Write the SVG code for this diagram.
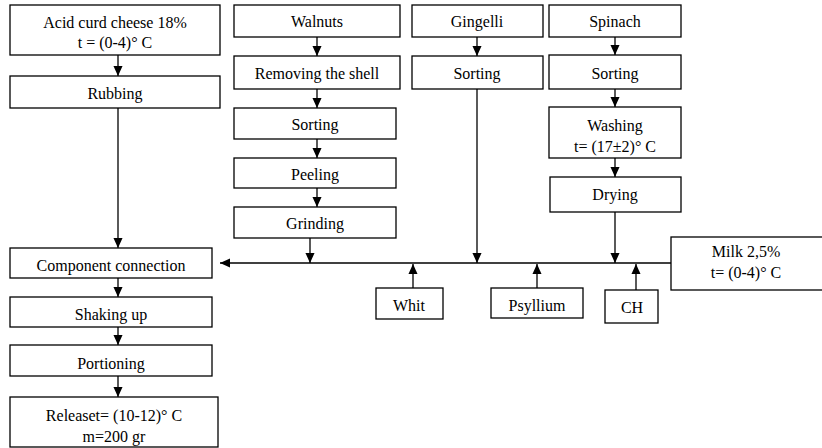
<svg xmlns="http://www.w3.org/2000/svg" width="822" height="448" viewBox="0 0 822 448">
<style>
.b{fill:#fff;stroke:#000;stroke-width:1.3}
text{font-family:"Times New Roman","Liberation Serif","DejaVu Serif",serif;font-size:16px;fill:#000;text-anchor:middle}
.c{fill:none;stroke:#000;stroke-width:1.3}
</style>
<defs>
<marker id="ah" markerUnits="userSpaceOnUse" markerWidth="10" markerHeight="12" refX="11" refY="5" orient="auto" viewBox="0 0 11 10">
<path d="M0,0 L11,5 L0,10 Z" fill="#000"/>
</marker>
</defs>
<rect width="822" height="448" fill="#fff"/>
<g id="connectors">
<line class="c" x1="118" y1="55" x2="118" y2="76" marker-end="url(#ah)"/>
<line class="c" x1="118" y1="108" x2="118" y2="248" marker-end="url(#ah)"/>
<line class="c" x1="118" y1="278" x2="118" y2="297" marker-end="url(#ah)"/>
<line class="c" x1="118" y1="327" x2="118" y2="345" marker-end="url(#ah)"/>
<line class="c" x1="118" y1="376" x2="118" y2="397" marker-end="url(#ah)"/>
<line class="c" x1="317" y1="37" x2="317" y2="56" marker-end="url(#ah)"/>
<line class="c" x1="317" y1="89" x2="317" y2="108" marker-end="url(#ah)"/>
<line class="c" x1="317" y1="139" x2="317" y2="158" marker-end="url(#ah)"/>
<line class="c" x1="317" y1="188" x2="317" y2="207" marker-end="url(#ah)"/>
<line class="c" x1="310" y1="238" x2="310" y2="263" marker-end="url(#ah)"/>
<line class="c" x1="477" y1="37" x2="477" y2="56" marker-end="url(#ah)"/>
<line class="c" x1="477" y1="89" x2="477" y2="263" marker-end="url(#ah)"/>
<line class="c" x1="615" y1="37" x2="615" y2="55" marker-end="url(#ah)"/>
<line class="c" x1="615" y1="89" x2="615" y2="107" marker-end="url(#ah)"/>
<line class="c" x1="615" y1="158" x2="615" y2="177" marker-end="url(#ah)"/>
<line class="c" x1="615" y1="212" x2="615" y2="263" marker-end="url(#ah)"/>
<line class="c" x1="671" y1="263" x2="220" y2="263" marker-end="url(#ah)"/>
<line class="c" x1="413" y1="288" x2="413" y2="264" marker-end="url(#ah)"/>
<line class="c" x1="537" y1="288" x2="537" y2="264" marker-end="url(#ah)"/>
<line class="c" x1="636" y1="290" x2="636" y2="264" marker-end="url(#ah)"/>
</g>
<g id="acid"><rect class="b" x="10" y="5" width="210" height="50"/><text x="115" y="28">Acid curd cheese 18%</text><text x="115" y="48">t = (0-4)° C</text></g>
<g id="rubbing"><rect class="b" x="10" y="76" width="210" height="32"/><text x="115" y="99">Rubbing</text></g>
<g id="walnuts"><rect class="b" x="234" y="5" width="166" height="32"/><text x="317" y="27">Walnuts</text></g>
<g id="removing"><rect class="b" x="234" y="56" width="166" height="33"/><text x="317" y="79">Removing the shell</text></g>
<g id="sorting1"><rect class="b" x="234" y="108" width="162" height="31"/><text x="315" y="130">Sorting</text></g>
<g id="peeling"><rect class="b" x="234" y="158" width="162" height="30"/><text x="315" y="180">Peeling</text></g>
<g id="grinding"><rect class="b" x="234" y="207" width="162" height="31"/><text x="315" y="229">Grinding</text></g>
<g id="gingelli"><rect class="b" x="412" y="5" width="131" height="32"/><text x="477" y="27">Gingelli</text></g>
<g id="sorting2"><rect class="b" x="412" y="56" width="131" height="33"/><text x="477" y="79">Sorting</text></g>
<g id="spinach"><rect class="b" x="549" y="5" width="132" height="32"/><text x="615" y="27">Spinach</text></g>
<g id="sorting3"><rect class="b" x="549" y="55" width="132" height="34"/><text x="615" y="79">Sorting</text></g>
<g id="washing"><rect class="b" x="549" y="107" width="132" height="51"/><text x="615" y="131">Washing</text><text x="615" y="152">t= (17±2)° C</text></g>
<g id="drying"><rect class="b" x="550" y="177" width="131" height="35"/><text x="615" y="200">Drying</text></g>
<g id="component"><rect class="b" x="10" y="248" width="202" height="30"/><text x="111" y="271">Component connection</text></g>
<g id="shaking"><rect class="b" x="10" y="297" width="202" height="30"/><text x="111" y="320">Shaking up</text></g>
<g id="portioning"><rect class="b" x="10" y="345" width="202" height="31"/><text x="111" y="369">Portioning</text></g>
<g id="release"><rect class="b" x="10" y="397" width="208" height="50"/><text x="114" y="421">Releaset= (10-12)° C</text><text x="114" y="442">m=200 gr</text></g>
<g id="whit"><rect class="b" x="376" y="288" width="67" height="31"/><text x="409" y="311">Whit</text></g>
<g id="psyllium"><rect class="b" x="491" y="288" width="92" height="30"/><text x="537" y="311">Psyllium</text></g>
<g id="ch"><rect class="b" x="605" y="290" width="53" height="33"/><text x="632" y="313">CH</text></g>
<g id="milk"><rect class="b" x="671" y="237" width="160" height="53"/><text x="746" y="257">Milk  2,5%</text><text x="746" y="278">t= (0-4)° C</text></g>
</svg>
